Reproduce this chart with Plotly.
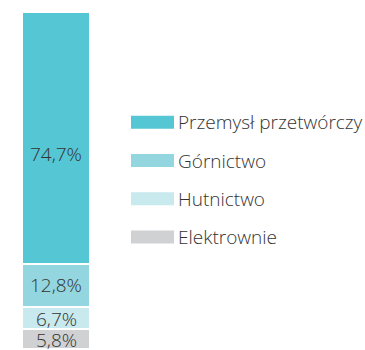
import plotly.graph_objects as go

# Share of each sector (percent), stacked bottom to top
categories = ["Elektrownie", "Hutnictwo", "Górnictwo", "Przemysł przetwórczy"]
values = [5.8, 6.7, 12.8, 74.7]
labels = ["5,8%", "6,7%", "12,8%", "74,7%"]

colors = ["#d0d1d3", "#c8e9ee", "#93d6df", "#55c6d3"]
text_color = "#333333"
font_family = "Open Sans, Noto Sans, sans-serif"

W, H = 365, 350

fig = go.Figure()

for cat, val, col in zip(categories, values, colors):
    fig.add_trace(go.Bar(
        x=[0], y=[val], name=cat, width=1,
        marker=dict(color=col, line=dict(color="white", width=2)),
        showlegend=False, hoverinfo="skip",
    ))

# Value labels centred in each segment (top label sits a little lower)
label_yshift = [-1, -1, 0, -16]
base = 0
for val, lab, ys in zip(values, labels, label_yshift):
    fig.add_annotation(
        x=0, y=base + val / 2, text=lab, showarrow=False, yshift=ys,
        font=dict(size=19, color=text_color, family=font_family, weight=300),
        xanchor="center", yanchor="middle",
    )
    base += val

# Legend: swatch + label, drawn top to bottom
legend_top = 122.3
legend_step = 38.2
for i, (cat, col) in enumerate(zip(categories[::-1], colors[::-1])):
    cy = legend_top + i * legend_step
    fig.add_shape(
        type="rect", xref="paper", yref="paper",
        x0=131 / W, x1=174 / W,
        y0=1 - (cy - 6.5) / H, y1=1 - (cy + 6.5) / H,
        fillcolor=col, line=dict(width=0),
    )
    fig.add_annotation(
        xref="paper", yref="paper", x=176 / W, y=1 - cy / H,
        text=cat, showarrow=False, xanchor="left", yanchor="middle",
        font=dict(size=19, color=text_color, family=font_family, weight=300),
    )

px_per_unit_x = 68.0
px_per_unit_y = 3.37
fig.update_layout(
    width=W, height=H,
    margin=dict(l=0, r=0, t=0, b=0),
    barmode="stack",
    paper_bgcolor="white", plot_bgcolor="white",
    xaxis=dict(range=[-0.5 - 22 / px_per_unit_x, 0.5 + (W - 90) / px_per_unit_x],
               visible=False, fixedrange=True),
    yaxis=dict(range=[-1 / px_per_unit_y, 100 + 12 / px_per_unit_y],
               visible=False, fixedrange=True),
)

fig.write_html("out.html", config={"displayModeBar": False})
